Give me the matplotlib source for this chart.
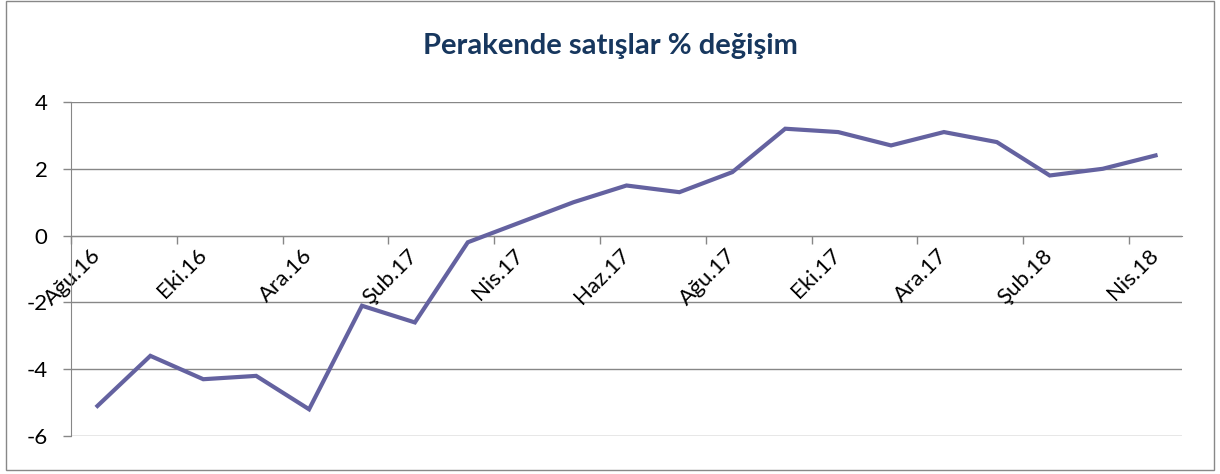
import matplotlib
matplotlib.use("Agg")
import matplotlib.pyplot as plt
from matplotlib.patches import Rectangle
from matplotlib.ticker import FixedLocator, NullFormatter
import numpy as np

months = ["Ağu.16", "Eyl.16", "Eki.16", "Kas.16", "Ara.16", "Oca.17", "Şub.17",
          "Mar.17", "Nis.17", "May.17", "Haz.17", "Tem.17", "Ağu.17", "Eyl.17",
          "Eki.17", "Kas.17", "Ara.17", "Oca.18", "Şub.18", "Mar.18", "Nis.18"]
values = [-5.1, -3.6, -4.3, -4.2, -5.2, -2.1, -2.6, -0.2, 0.4, 1.0, 1.5, 1.3,
          1.9, 3.2, 3.1, 2.7, 3.1, 2.8, 1.8, 2.0, 2.4]
title = "Perakende satışlar % değişim"
y_ticks = [-6, -4, -2, 0, 2, 4]

plt.rcParams['font.family'] = ['Lato', 'DejaVu Sans']

fig = plt.figure(figsize=(12.2, 4.74), dpi=100)
ax = fig.add_axes([71/1220, 1-436/474, (1182-71)/1220, (436-102)/474])

x = np.arange(len(values))
grid_c = '#878787'
for yv in y_ticks:
    ax.axhline(yv, color=grid_c, lw=1.0, zorder=1)
ax.plot(x, values, color='#6462A0', lw=3.0, solid_joinstyle='miter', zorder=3)

ax.set_xlim(-0.5, len(values) - 0.5)
ax.set_ylim(-6, 4)

for s in ['top', 'right']:
    ax.spines[s].set_visible(False)
ax.spines['left'].set_color(grid_c)
ax.spines['bottom'].set_position(('data', 0))
ax.spines['bottom'].set_color(grid_c)

ax.set_yticks(y_ticks)
ax.set_yticklabels([str(v) for v in y_ticks])
ax.tick_params(axis='y', direction='out', length=6, width=1, color=grid_c,
               pad=11, labelsize=16)

# boundary tick marks (minor, no label)
ax.xaxis.set_minor_locator(FixedLocator(np.arange(-0.5, len(values), 2)))
ax.xaxis.set_minor_formatter(NullFormatter())
ax.tick_params(axis='x', which='minor', direction='out', length=6, width=1,
               color=grid_c)
# labelled categories (major, no tick mark)
ax.tick_params(axis='x', which='major', length=0, pad=12, labelsize=16,
               labelrotation=45)
ax.set_xticks(x[::2])
ax.set_xticklabels([months[i] for i in x[::2]])

fig.text(0.5, 1-46/474, title, ha='center', va='center', fontsize=21,
         fontweight='bold', color='#17375E')

fig.patches.append(Rectangle((6/1220, 1-470/474), 1208/1220, 469/474,
                             transform=fig.transFigure, fill=False,
                             edgecolor='#888888', lw=1))

fig.canvas.draw()
for lab in ax.get_xticklabels():
    lab.set_rotation(45)
    lab.set_horizontalalignment('right')
    lab.set_verticalalignment('center')
    lab.set_rotation_mode('anchor')

fig.savefig('out.png', dpi=100)
